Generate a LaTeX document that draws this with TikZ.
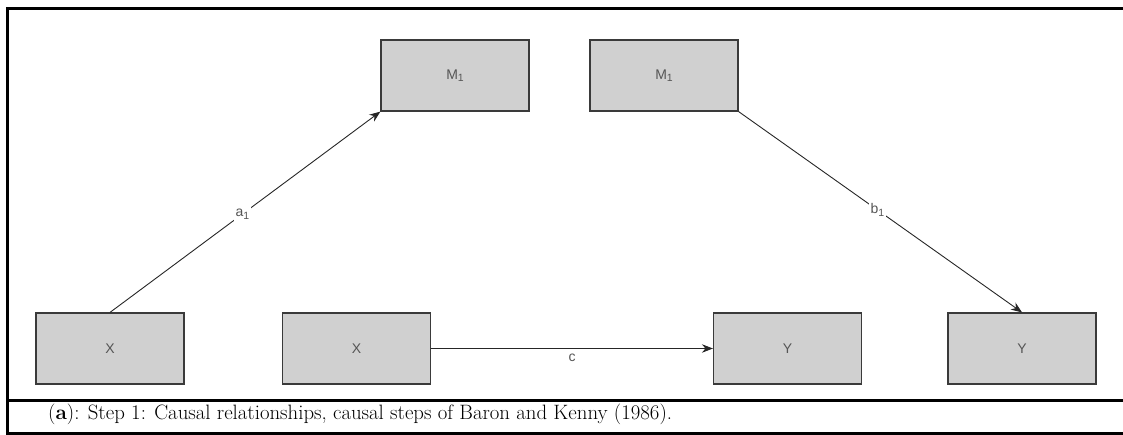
\documentclass[tikz,border=0pt]{standalone}
\usepackage{fontspec}
\newfontfamily\boxfont{Liberation Sans}
\usetikzlibrary{arrows.meta}
\definecolor{boxfill}{HTML}{D0D0D0}
\definecolor{boxline}{HTML}{3A3A3A}
\definecolor{labeltext}{HTML}{555555}
% sans subscript, lowered below the baseline
\newcommand\lowsub[1]{\raisebox{-0.35ex}{\fontsize{10.5}{12}\selectfont #1}}
\tikzset{
  varbox/.style={draw=boxline, line width=1.2pt, fill=boxfill, rectangle,
    minimum width=148pt, minimum height=71pt, inner sep=0pt,
    text=labeltext, font=\boxfont\fontsize{14}{16}\selectfont},
  path/.style={draw=black!85, line width=0.9pt, -{Stealth[length=11pt,width=8.5pt]}},
  pathlabel/.style={fill=white, inner sep=1.5pt, text=labeltext,
    font=\boxfont\fontsize{14}{16}\selectfont},
  frameline/.style={line width=3pt, black}
}
\begin{document}
\begin{tikzpicture}[x=1pt, y=-1pt]
  \useasboundingbox (0,0) rectangle (1123,435);
  % panel frame and caption rule
  \draw[frameline] (1123,9) -- (7,9) -- (7,433) -- (1123,433);
  \draw[frameline] (7,400) -- (1123,400);

  % variables
  \node[varbox] (x1) at (110,348.5) {X};
  \node[varbox] (m1a) at (455,75.5) {M\lowsub{1}};
  \node[varbox] (x2) at (356.5,348.5) {X};
  \node[varbox] (y1) at (787.5,348.5) {Y};
  \node[varbox] (m1b) at (664,75.5) {M\lowsub{1}};
  \node[varbox] (y2) at (1022,348.5) {Y};

  % causal paths
  \draw[path] (x1.north) -- node[pathlabel, pos=0.49] {a\lowsub{1}} (m1a.south west);
  \draw[path] (m1b.south east) -- node[pathlabel, pos=0.49] {b\lowsub{1}} (y2.north);
  \draw[path] (x2.east) -- node[pathlabel, below=4pt, fill=none] {c} (y1.west);

  % caption
  \node[anchor=base west, inner sep=0pt, font=\fontsize{20.8}{24}\selectfont] (cap) at (48,419)
    {(\textbf{a}): Step 1: Causal relationships, causal steps of Baron and Kenny (1986).};
\end{tikzpicture}
\end{document}
